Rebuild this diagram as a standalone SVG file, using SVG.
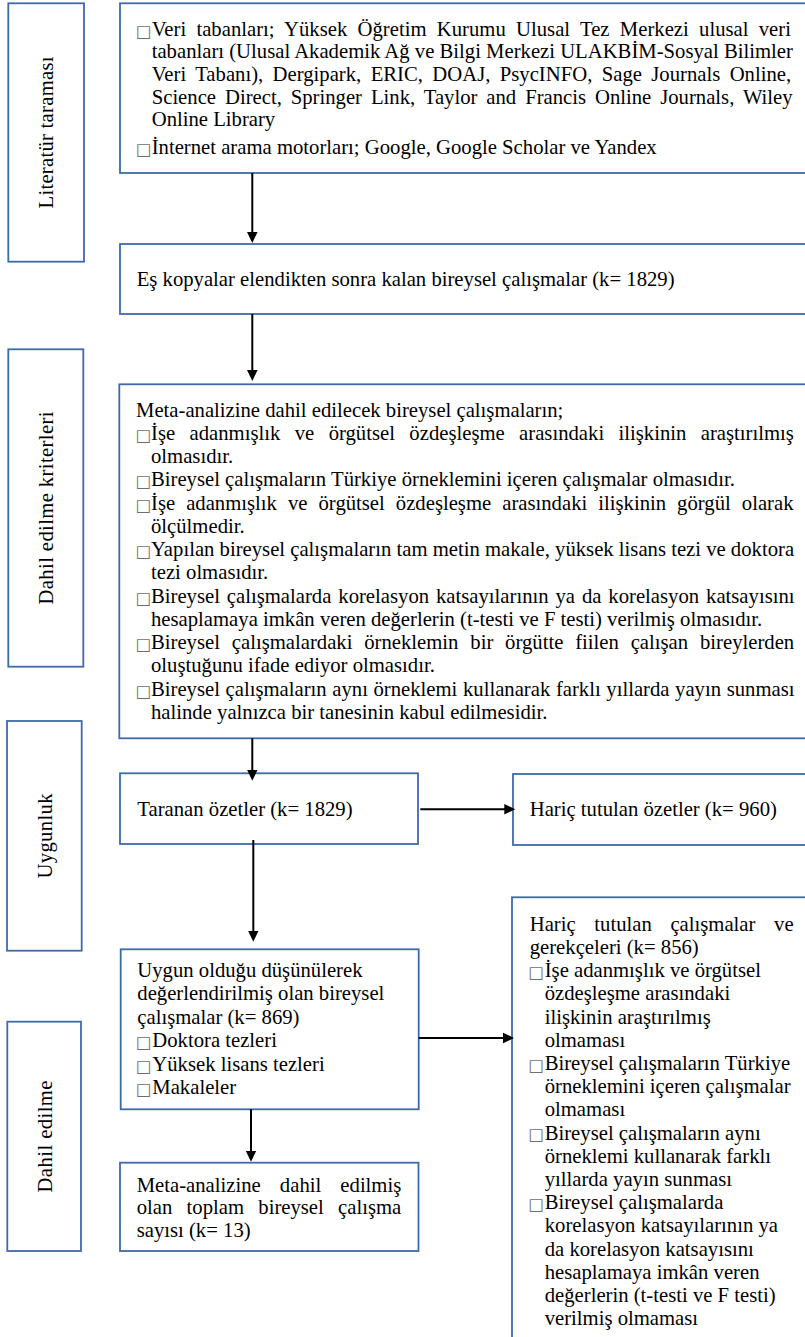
<svg xmlns="http://www.w3.org/2000/svg" width="805" height="1337" viewBox="0 0 805 1337">
<style>
.box{fill:#fff;stroke:#3f6aa8;stroke-width:1.8}
.t{font-family:"Liberation Serif","Times New Roman",serif;font-size:20.7px;fill:#000}
.b{font-family:"DejaVu Sans",sans-serif;font-size:16.5px;fill:#6e6e6e}
.lbl{font-family:"Liberation Serif","Times New Roman",serif;font-size:20.7px;fill:#000;text-anchor:middle}
.c{stroke:#000;stroke-width:2;fill:none}
</style>
<defs>
<marker id="ah" markerUnits="userSpaceOnUse" markerWidth="12" markerHeight="12" viewBox="0 0 12 12" refX="3" refY="6" orient="auto">
<path d="M0,0.7 L11,6 L0,11.3 Z" fill="#000"/>
</marker>
</defs>

<g id="label-literatur">
<rect class="box" x="8.3" y="3.3" width="75.7" height="258.4"/>
<text class="lbl" font-family="Liberation Serif, serif" transform="translate(53,132.5) rotate(-90)" textLength="152" lengthAdjust="spacing">Literatür taraması</text>
</g>
<g id="label-kriterler">
<rect class="box" x="8.3" y="349.3" width="75" height="317.4"/>
<text class="lbl" font-family="Liberation Serif, serif" transform="translate(53.3,508) rotate(-90)" textLength="193" lengthAdjust="spacing">Dahil edilme kriterleri</text>
</g>
<g id="label-uygunluk">
<rect class="box" x="7" y="721" width="74.7" height="229.7"/>
<text class="lbl" font-family="Liberation Serif, serif" transform="translate(51.7,836) rotate(-90)" textLength="85" lengthAdjust="spacing">Uygunluk</text>
</g>
<g id="label-dahil">
<rect class="box" x="7.3" y="1021.7" width="73.7" height="229.3"/>
<text class="lbl" font-family="Liberation Serif, serif" transform="translate(51.7,1136.5) rotate(-90)" textLength="112" lengthAdjust="spacing">Dahil edilme</text>
</g>

<g id="node-sources">
<rect class="box" x="120" y="3.3" width="700" height="169.7"/>
<text class="b" x="136" y="36.5">□</text>
<text class="t" x="151.7" y="35.7" style="word-spacing:5.12px">Veri tabanları; Yüksek Öğretim Kurumu Ulusal Tez Merkezi ulusal veri</text>
<text class="t" x="151.7" y="58.3">tabanları (Ulusal Akademik Ağ ve Bilgi Merkezi ULAKBİM-Sosyal Bilimler</text>
<text class="t" x="151.7" y="81" style="word-spacing:4.22px">Veri Tabanı), Dergipark, ERIC, DOAJ, PsycINFO, Sage Journals Online,</text>
<text class="t" x="151.7" y="103.7" style="word-spacing:3.76px">Science Direct, Springer Link, Taylor and Francis Online Journals, Wiley</text>
<text class="t" x="151.7" y="126.3">Online Library</text>
<text class="b" x="136" y="154.8">□</text>
<text class="t" x="151.7" y="154">İnternet arama motorları; Google, Google Scholar ve Yandex</text>
</g>

<g id="node-dedup">
<rect class="box" x="120" y="244" width="700" height="70"/>
<text class="t" x="136.7" y="286">Eş kopyalar elendikten sonra kalan bireysel çalışmalar (k= 1829)</text>
</g>

<g id="node-criteria">
<rect class="box" x="119.3" y="384.3" width="700" height="354"/>
<text class="t" x="136" y="416.7">Meta-analizine dahil edilecek bireysel çalışmaların;</text>
<text class="b" x="135.7" y="440.75">□</text>
<text class="t" x="151" y="439.95" style="word-spacing:9.24px">İşe adanmışlık ve örgütsel özdeşleşme arasındaki ilişkinin araştırılmış</text>
<text class="t" x="151" y="463.2">olmasıdır.</text>
<text class="b" x="135.7" y="487.25">□</text>
<text class="t" x="151" y="486.45">Bireysel çalışmaların Türkiye örneklemini içeren çalışmalar olmasıdır.</text>
<text class="b" x="135.7" y="510.5">□</text>
<text class="t" x="151" y="509.7" style="word-spacing:5.86px">İşe adanmışlık ve örgütsel özdeşleşme arasındaki ilişkinin görgül olarak</text>
<text class="t" x="151" y="532.95">ölçülmedir.</text>
<text class="b" x="135.7" y="557">□</text>
<text class="t" x="151" y="556.2">Yapılan bireysel çalışmaların tam metin makale, yüksek lisans tezi ve doktora</text>
<text class="t" x="151" y="579.45">tezi olmasıdır.</text>
<text class="b" x="135.7" y="603.5">□</text>
<text class="t" x="151" y="602.7" style="word-spacing:1.74px">Bireysel çalışmalarda korelasyon katsayılarının ya da korelasyon katsayısını</text>
<text class="t" x="151" y="625.95">hesaplamaya imkân veren değerlerin (t-testi ve F testi) verilmiş olmasıdır.</text>
<text class="b" x="135.7" y="650">□</text>
<text class="t" x="151" y="649.2" style="word-spacing:6.67px">Bireysel çalışmalardaki örneklemin bir örgütte fiilen çalışan bireylerden</text>
<text class="t" x="151" y="672.45">oluştuğunu ifade ediyor olmasıdır.</text>
<text class="b" x="135.7" y="696.5">□</text>
<text class="t" x="151" y="695.7" style="word-spacing:0.44px">Bireysel çalışmaların aynı örneklemi kullanarak farklı yıllarda yayın sunması</text>
<text class="t" x="151" y="718.95">halinde yalnızca bir tanesinin kabul edilmesidir.</text>
</g>

<g id="node-screened">
<rect class="box" x="120" y="773.3" width="298" height="70.7"/>
<text class="t" x="137.3" y="816">Taranan özetler (k= 1829)</text>
</g>

<g id="node-excluded-abstracts">
<rect class="box" x="513" y="774" width="300" height="71"/>
<text class="t" x="529.7" y="816">Hariç tutulan özetler (k= 960)</text>
</g>

<g id="node-eligible">
<rect class="box" x="120.7" y="949.3" width="298" height="160"/>
<text class="t" x="137.3" y="976.7">Uygun olduğu düşünülerek</text>
<text class="t" x="137.3" y="1000.2">değerlendirilmiş olan bireysel</text>
<text class="t" x="137.3" y="1023.7">çalışmalar (k= 869)</text>
<text class="b" x="136" y="1048">□</text>
<text class="t" x="152.3" y="1047.2">Doktora tezleri</text>
<text class="b" x="136" y="1071.5">□</text>
<text class="t" x="152.3" y="1070.7">Yüksek lisans tezleri</text>
<text class="b" x="136" y="1095">□</text>
<text class="t" x="152.3" y="1094.2">Makaleler</text>
</g>

<g id="node-included">
<rect class="box" x="120" y="1162.7" width="298.5" height="88.3"/>
<text class="t" x="136.7" y="1191.7" style="word-spacing:13.95px">Meta-analizine dahil edilmiş</text>
<text class="t" x="136.7" y="1214.2" style="word-spacing:9.1px">olan toplam bireysel çalışma</text>
<text class="t" x="136.7" y="1236.7">sayısı (k= 13)</text>
</g>

<g id="node-excluded-studies">
<rect class="box" x="512" y="897.3" width="300" height="460"/>
<text class="t" x="529.7" y="930.7" style="word-spacing:13.5px">Hariç tutulan çalışmalar ve</text>
<text class="t" x="529.7" y="953.9">gerekçeleri (k= 856)</text>
<text class="b" x="528.4" y="977.9">□</text>
<text class="t" x="544.7" y="977.1">İşe adanmışlık ve örgütsel</text>
<text class="t" x="544.7" y="1000.3">özdeşleşme arasındaki</text>
<text class="t" x="544.7" y="1023.5">ilişkinin araştırılmış</text>
<text class="t" x="544.7" y="1046.7">olmaması</text>
<text class="b" x="528.4" y="1070.7">□</text>
<text class="t" x="544.7" y="1069.9">Bireysel çalışmaların Türkiye</text>
<text class="t" x="544.7" y="1093.1">örneklemini içeren çalışmalar</text>
<text class="t" x="544.7" y="1116.3">olmaması</text>
<text class="b" x="528.4" y="1140.3">□</text>
<text class="t" x="544.7" y="1139.5">Bireysel çalışmaların aynı</text>
<text class="t" x="544.7" y="1162.7">örneklemi kullanarak farklı</text>
<text class="t" x="544.7" y="1185.9">yıllarda yayın sunması</text>
<text class="b" x="528.4" y="1209.9">□</text>
<text class="t" x="544.7" y="1209.1">Bireysel çalışmalarda</text>
<text class="t" x="544.7" y="1232.3">korelasyon katsayılarının ya</text>
<text class="t" x="544.7" y="1255.5">da korelasyon katsayısını</text>
<text class="t" x="544.7" y="1278.7">hesaplamaya imkân veren</text>
<text class="t" x="544.7" y="1301.9">değerlerin (t-testi ve F testi)</text>
<text class="t" x="544.7" y="1325.1">verilmiş olmaması</text>
</g>

<g id="connectors">
<line class="c" x1="252.3" y1="173" x2="252.3" y2="235" marker-end="url(#ah)"/>
<line class="c" x1="252.3" y1="314" x2="252.3" y2="373" marker-end="url(#ah)"/>
<line class="c" x1="252.3" y1="738.3" x2="252.3" y2="772.7" marker-end="url(#ah)"/>
<line class="c" x1="253.3" y1="840" x2="253.3" y2="933.7" marker-end="url(#ah)"/>
<line class="c" x1="251" y1="1109.3" x2="251" y2="1153.7" marker-end="url(#ah)"/>
<line class="c" x1="420.3" y1="809.3" x2="507.3" y2="809.3" marker-end="url(#ah)"/>
<line class="c" x1="418.7" y1="1038" x2="506" y2="1038" marker-end="url(#ah)"/>
</g>
</svg>
